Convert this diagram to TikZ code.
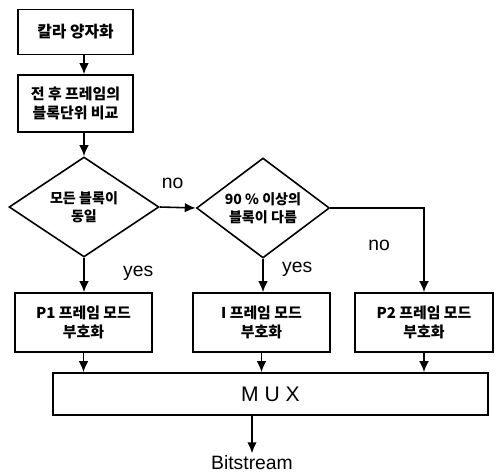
\documentclass[tikz,border=0pt]{standalone}
\usepackage{fontspec}
\setmainfont{Liberation Sans}
\newfontfamily\cjk{Noto Sans CJK KR}
\usepackage{tikz}
\usetikzlibrary{arrows.meta,calc,positioning,shapes.geometric}

\begin{document}
\begin{tikzpicture}[x=0.02cm,y=-0.02cm,line width=0.9pt,
  bx/.style={draw,align=center,font=\cjk\fontsize{8.5}{11}\selectfont\bfseries,inner sep=2pt,minimum width=#1},
  bx/.default=2.3cm,
  dm/.style={draw,diamond,aspect=1.5,inner sep=0pt,align=center,font=\cjk\fontsize{8}{10.5}\selectfont\bfseries,minimum height=2cm,minimum width=#1},
  lbl/.style={font=\fontsize{11}{13}\selectfont},
  arr/.style={-{Latex[length=2.2mm,width=1.9mm]}}]
  \useasboundingbox (0,0) rectangle (497,473);
  % upper chain
  \node[bx,minimum height=0.9cm,font=\cjk\fontsize{9}{11}\selectfont\bfseries] (quant) at (75.5,32) {칼라 양자화};
  \node[bx,minimum height=1.14cm] (cmp) at (75.5,103.5) {전 후 프레임의\\블록단위 비교};
  \node[dm=3cm] (same) at (84,207) {모든 블록이\\동일};
  \node[dm=2.66cm] (diff) at (263,208) {90 \% 이상의\\블록이 다름};
  % coders
  \node[bx=2.74cm,minimum height=1.18cm] (pone) at (83.5,322.5) {P1 프레임 모드\\부호화};
  \node[bx=2.74cm,minimum height=1.18cm] (ifr) at (261.5,322.5) {I 프레임 모드\\부호화};
  \node[bx=2.76cm,minimum height=1.18cm] (ptwo) at (424,322.5) {P2 프레임 모드\\부호화};
  \node[draw,minimum width=8.7cm,minimum height=0.84cm,font=\fontsize{12}{14}\selectfont] (mux) at (270.5,394) {M U X};
  \node[lbl,inner sep=1pt] (bits) at (252,463) {Bitstream};
  % connectors
  \draw[arr] (quant.south -| same) -- (cmp.north -| same);
  \draw[arr] (cmp.south -| same) -- (same.north);
  \draw[arr] (same.south) -- (pone.north -| same) node[lbl,pos=0.45,right=0.65cm] {yes};
  \draw[arr] (same.east) -- (diff.west) node[lbl,pos=0.36,above=0.25cm] {no};
  \draw[arr] (diff.south) -- (ifr.north -| diff) node[lbl,pos=0.3,right=0.25cm] {yes};
  \draw[arr] (diff.east) -| (ptwo.north) node[lbl,pos=0.72,left=0.55cm] {no};
  \draw[arr] (pone.south) -- (pone.south |- mux.north);
  \draw[arr] (ifr.south) -- (ifr.south |- mux.north);
  \draw[arr] (ptwo.south) -- (ptwo.south |- mux.north);
  \draw[arr] (mux.south -| bits) -- (bits.north);
\end{tikzpicture}
\end{document}
